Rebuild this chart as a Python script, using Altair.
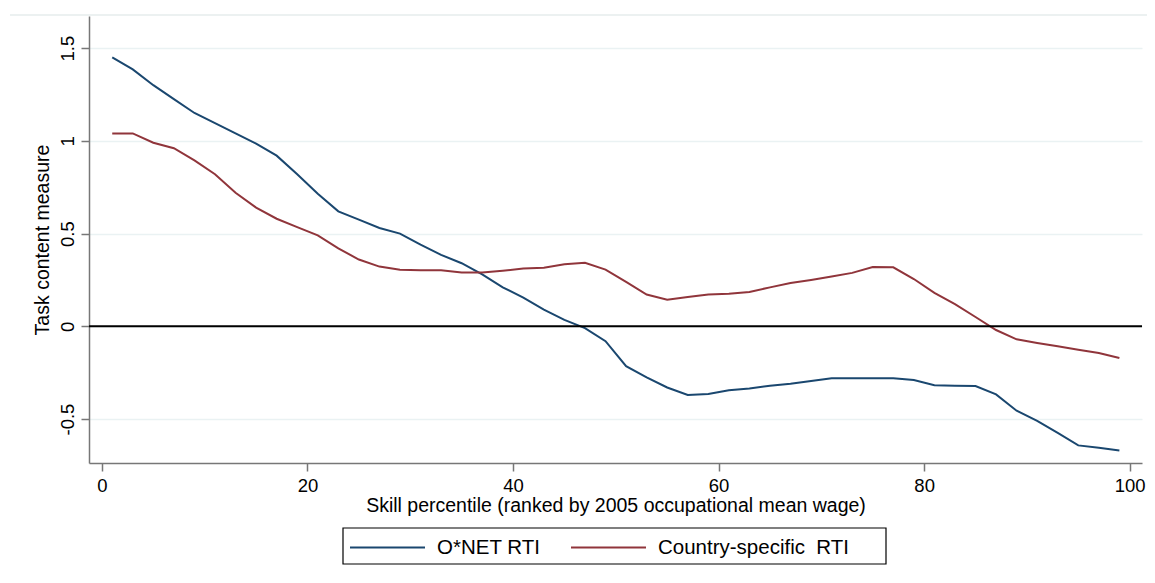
import altair as alt
import pandas as pd

# Skill percentiles (ranked by 2005 occupational mean wage)
pct = list(range(1, 100, 2))

onet_rti = [1.45, 1.385, 1.30, 1.225, 1.15, 1.095, 1.04, 0.985, 0.92, 0.82,
            0.715, 0.62, 0.575, 0.53, 0.50, 0.44, 0.385, 0.34, 0.28, 0.21,
            0.155, 0.09, 0.035, -0.01, -0.08, -0.215, -0.275, -0.33, -0.37, -0.365,
            -0.345, -0.335, -0.32, -0.31, -0.295, -0.28, -0.28, -0.28, -0.28, -0.29,
            -0.318, -0.32, -0.322, -0.367, -0.455, -0.51, -0.575, -0.642, -0.655, -0.669]

country_rti = [1.04, 1.04, 0.99, 0.96, 0.895, 0.82, 0.72, 0.64, 0.58, 0.535,
               0.49, 0.42, 0.36, 0.322, 0.305, 0.302, 0.302, 0.29, 0.29, 0.30,
               0.311, 0.316, 0.334, 0.342, 0.306, 0.239, 0.171, 0.143, 0.158, 0.171,
               0.176, 0.185, 0.21, 0.234, 0.25, 0.268, 0.288, 0.32, 0.318, 0.255,
               0.18, 0.12, 0.05, -0.02, -0.07, -0.09, -0.108, -0.126, -0.144, -0.171]

series_names = ["O*NET RTI", "Country-specific\u00a0 RTI"]
series_colors = ["#1a476f", "#90353b"]
x_ticks = [0, 20, 40, 60, 80, 100]
y_ticks = [-0.5, 0, 0.5, 1, 1.5]

df = pd.concat([
    pd.DataFrame({"pct": pct, "value": onet_rti, "series": series_names[0]}),
    pd.DataFrame({"pct": pct, "value": country_rti, "series": series_names[1]}),
])

FONT = "Liberation Sans"

x_enc = alt.X("pct:Q",
              scale=alt.Scale(domain=[-1.26, 101.2], nice=False, zero=False),
              axis=alt.Axis(values=x_ticks, title="Skill percentile (ranked by 2005 occupational mean wage)",
                            grid=False, domainColor="#777777", domainWidth=1.5,
                            tickColor="#777777", tickWidth=1.5, tickSize=8,
                            labelFontSize=18.5, labelPadding=5, labelColor="#000000",
                            titleFontSize=19.5, titleFontWeight="normal", titleColor="#000000",
                            titlePadding=2, labelFlush=False))
y_enc = alt.Y("value:Q",
              scale=alt.Scale(domain=[-0.737, 1.673], nice=False, zero=False),
              axis=alt.Axis(values=y_ticks, title="Task content measure",
                            grid=True, gridColor="#eaf2f3", gridWidth=1.5,
                            domainColor="#777777", domainWidth=1.5,
                            tickColor="#777777", tickWidth=1.5, tickSize=8,
                            labelAngle=270, labelAlign="center", labelBaseline="bottom",
                            labelFontSize=18.5, labelPadding=4, labelColor="#000000",
                            labelExpr="toString(datum.value)", labelFlush=False,
                            titleFontSize=19.5, titleFontWeight="normal", titleColor="#000000",
                            titlePadding=6))

# legend frame (decoration, in pixels relative to the plot area)
legend_box = alt.Chart(pd.DataFrame({"a": [0]})).mark_rect(
    fill="#ffffff", stroke="#000000", strokeWidth=1.2).encode(
    x=alt.value(254), x2=alt.value(797), y=alt.value(512), y2=alt.value(548))

lines = alt.Chart(df).mark_line(strokeWidth=2).encode(
    x=x_enc,
    y=y_enc,
    color=alt.Color("series:N",
                    scale=alt.Scale(domain=series_names, range=series_colors),
                    sort=series_names,
                    legend=alt.Legend(title=None, orient="none", legendX=254, legendY=512,
                                      direction="horizontal", columns=2,
                                      symbolType="M-1,0L5,0", symbolSize=625, symbolStrokeWidth=2,
                                      labelFontSize=20.5, labelOffset=61, columnPadding=26,
                                      labelColor="#000000", padding=6,
                                      labelLimit=400)),
    detail="series:N",
)

zero = alt.Chart(pd.DataFrame({"y": [0]})).mark_rule(color="#000000", strokeWidth=2).encode(
    y=alt.Y("y:Q"))

top_line = alt.Chart(pd.DataFrame({"y": [0]})).mark_rule(color="#e6eced", strokeWidth=1.5).encode(
    x=alt.value(-79), x2=alt.value(1066), y=alt.value(-1))

chart = alt.layer(legend_box, lines, zero, top_line).properties(
    width=1053, height=447,
    autosize="none",
    padding={"left": 81, "top": 8, "right": 5, "bottom": 110},
).configure(font=FONT).configure_view(stroke=None)

chart.save("out.html", embed_options={"renderer": "svg", "actions": False})
